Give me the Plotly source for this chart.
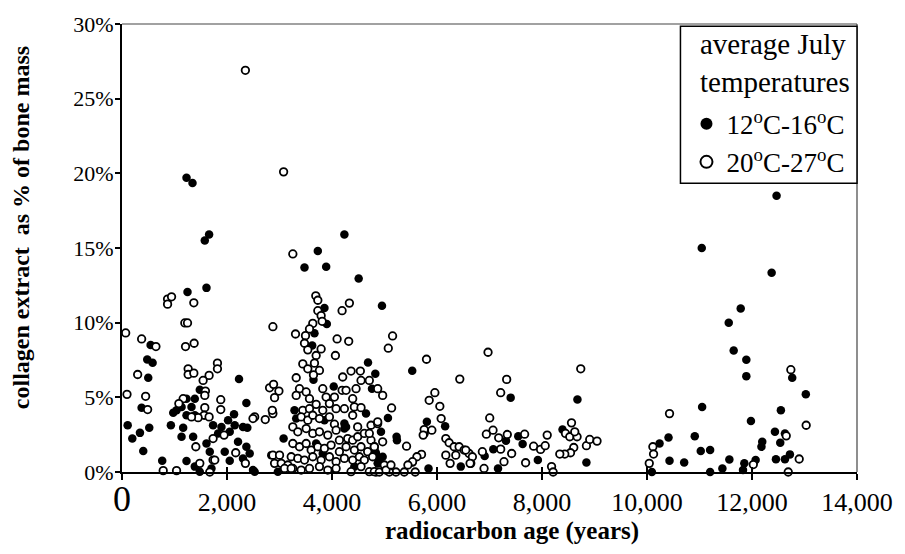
import plotly.graph_objects as go

# Bone collagen yield vs radiocarbon age, split by average July temperature
age_cool = [1229, 1343, 1577, 1659, 3476, 3730, 3889, 4236, 4508, 4952, 1248, 1609, 3856, 3901,
            3666, 3622, 4686, 4825, 5528, 3647, 4033, 4762, 4648, 5066, 4933, 5230, 5237, 5534,
            5838, 5807, 6155, 5763, 6453, 3286, 3318, 3856, 4236, 4236, 4838, 4901, 3698, 3824,
            4426, 4870, 4268, 4825, 4965,
            545, 481, 583, 500, 2229, 1482, 374, 108, 196, 342, 519, 405, 1229, 1387, 1324, 1134,
            1229, 1387, 1039, 976, 1165, 1355, 1134, 931, 2369, 2134, 1735, 1894, 2020, 2147, 2305,
            2387, 1830, 2052, 1609, 1672, 1957, 2210, 2369, 2432, 2052, 2305, 2495, 2527, 1387,
            1482, 1704, 1229, 766, 3078, 2843, 2969,
            7403, 8675, 7314, 7073, 7548, 7631, 7921, 7162, 6908, 8391, 8846,
            12468, 11043, 12374, 11785, 11557, 11651, 11892, 11892, 12766, 13025, 11050, 11980,
            12550, 10410, 10239, 10093, 10429, 10708, 10910, 11024, 11202, 11202, 11436, 11569,
            11854, 11829, 12069, 12180, 12195, 12437, 12538, 12627, 12456, 12627, 12722]
coll_cool = [19.7, 19.35, 15.5, 15.9, 13.7, 14.8, 13.75, 15.9, 12.95, 11.13, 12.05, 12.33, 10.98, 9.91,
             9.29, 8.47, 7.33, 6.58, 6.78, 6.18, 5.73, 5.58, 3.91, 3.62, 2.69, 2.36, 2.13, 0.64,
             0.24, 3.36, 3.07, 2.58, 0.36, 4.13, 3.58, 3.47, 3.24, 2.91, 1.24, 0.8, 1.91, 1.24,
             0.36, 0.58, 3.02, 1.36, 1.02,
             8.51, 7.53, 7.31, 6.31, 6.22, 5.51, 4.31, 3.13, 2.24, 2.62, 2.96, 1.4, 4.91, 4.91, 4.36, 4.36,
             3.8, 3.8, 4.13, 3.96, 2.96, 2.36, 2.36, 3.13, 4.62, 3.87, 3.13, 3.02, 3.47, 3.13, 3.02,
             2.96, 2.58, 2.69, 1.91, 1.36, 1.36, 2.02, 1.69, 1.24, 0.76, 0.91, 0.13, 0.02, 0.36,
             0.02, 0.24, 0.73, 0.76, 2.24, 1.13, 0.02,
             4.98, 4.85, 2.09, 1.53, 2.4, 1.87, 0.8, 0.24, 1.07, 2.84, 0.64,
             18.5, 15.0, 13.35, 10.95, 10.0, 8.13, 7.51, 6.42, 6.31, 5.2, 4.36, 3.42,
             4.13, 2.31, 1.91, 0.0, 0.76, 0.64, 2.4, 1.4, 1.47, 0.0, 0.24, 0.84,
             0.58, 0.13, 0.8, 1.69, 2.02, 2.69, 1.96, 2.58, 0.85, 0.85, 1.18]

age_warm = [2350, 3078, 3254, 868, 944, 868, 1368, 3691, 3730, 4331, 4192, 3730, 3793, 3812, 3634,
            3571, 3305, 3495, 3476, 3539, 3793, 3698, 4097, 4318, 5154, 5072, 4065, 5800, 6434,
            3444, 3539, 3666, 3761, 3647, 3318, 4204, 4363, 4540, 4553, 4711, 4870, 4965, 3381,
            3318, 3508, 3571, 3824, 3888, 4046, 4192, 4268, 4394, 4458, 5135, 5851, 5959, 6054,
            6079, 5756, 5737, 5902, 6168, 6231, 6326, 6421, 6516, 6168, 6250, 6358, 6611, 6643,
            5420, 5705, 5617, 5534, 5446, 5218, 5376, 5585,
            3444, 3571, 3698, 3824, 3951, 4078, 4236, 4426, 4553,
            3413, 3539, 3634, 3761, 3951, 4046, 4394, 4489, 4743, 4870,
            3254, 3349, 3508, 3634, 3761, 3920, 4078, 4141, 4299, 4394, 4489, 4616, 4743, 4806, 4965,
            3254, 3381, 3508, 3603, 3730, 3856, 3983, 4141, 4268, 4426, 4553, 4679, 4806,
            3223, 3349, 3476, 3634, 3793, 3951, 4078, 4236, 4394, 4521, 4616, 4774, 4996,
            3254, 3413, 3571, 3761, 3920, 4078, 4363, 4553, 4711, 4838, 5091,
            4806, 4901, 5028, 5123, 4711, 4870,
            1197, 1248, 70, 374, 646, 1210, 1374, 2874, 298, 1260, 1260, 1368, 1818, 1818, 1659,
            1545, 1589, 1577, 95, 450, 488, 1165, 1083, 1577, 1564, 1450, 1324, 1881, 1881, 1659,
            2527, 2495, 2729, 2874, 2862, 2811, 2887, 2989, 2906, 1944, 1735, 1406, 1735, 1767,
            2166, 2350, 785, 1039, 1672, 1482, 2874, 3001, 2906, 3033, 3159, 3096, 3223,
            6972, 8738, 7327, 7213, 7004, 7067, 6940, 7175, 7339, 7213, 7669, 7840, 7973, 8061,
            8099, 7688, 8182, 8212, 7422, 7276, 6896, 6864, 6674, 6630, 6548, 8562, 8448, 8529,
            8668, 8624, 8605, 8543, 8434, 8339, 8846, 8909, 9048,
            12740, 10429, 13032, 10112, 10125, 10043, 12025, 12652, 12899, 12690]
coll_warm = [26.9, 20.1, 14.6, 11.58, 11.73, 11.24, 11.33, 11.8, 11.5, 11.31, 10.8, 10.8, 10.47, 10.09, 9.95,
             9.58, 9.24, 9.13, 8.62, 8.18, 8.24, 7.8, 8.91, 8.75, 9.11, 8.29, 7.8, 7.55, 6.22,
             7.24, 6.91, 7.29, 6.8, 6.5, 6.31, 6.36, 6.76, 6.76, 6.13, 6.13, 5.58, 5.13, 5.58,
             5.13, 5.36, 4.91, 5.58, 5.02, 5.02, 5.47, 5.47, 4.91, 5.58, 4.29, 4.8, 5.31, 4.4,
             3.58, 2.84, 2.47, 2.8, 2.24, 1.96, 1.69, 1.69, 1.47, 1.13, 0.58, 1.13, 1.24, 0.58,
             1.73, 1.18, 1.02, 0.69, 0.47, 0.0, 0.0, 0.0,
             4.13, 4.24, 4.53, 4.13, 4.58, 4.24, 4.24, 4.36, 4.31,
             3.69, 3.47, 3.8, 3.58, 3.69, 3.2, 3.8, 3.02, 3.13, 3.24,
             3.02, 2.69, 2.91, 2.58, 2.69, 2.47, 2.8, 2.13, 2.24, 2.13, 2.36, 2.58, 2.13, 1.69, 2.02,
             1.91, 1.69, 1.91, 1.47, 1.69, 1.58, 1.8, 1.36, 1.69, 1.47, 1.69, 1.36, 1.69,
             1.02, 0.91, 0.8, 1.02, 0.8, 1.02, 0.69, 0.91, 0.8, 1.02, 0.8, 1.02, 0.47,
             0.24, 0.13, 0.24, 0.36, 0.13, 0.24, 0.02, 0.36, 0.02, 0.0, 0.0,
             0.02, 0.0, 0.13, 0.47, 2.58, 3.36,
             9.98, 9.98, 9.31, 8.91, 8.4, 8.4, 8.62, 9.73, 6.53, 6.91, 6.53, 6.62, 7.29, 6.91, 6.47,
             6.13, 5.42, 5.13, 5.2, 5.07, 4.18, 4.91, 4.58, 4.31, 3.8, 3.64, 3.69, 4.84, 4.18, 3.69,
             3.69, 3.58, 3.51, 3.91, 4.13, 5.64, 5.87, 5.42, 4.98, 2.47, 2.24, 1.69, 0.8, 0.8,
             1.29, 0.58, 0.09, 0.09, 0.0, 0.58, 1.13, 1.13, 0.58, 0.58, 0.47, 0.24, 0.24,
             8.02, 6.91, 6.2, 5.31, 3.62, 2.8, 2.53, 2.29, 2.51, 1.53, 2.53, 1.73, 1.51, 1.76,
             2.47, 0.62, 0.36, 0.0, 1.24, 0.69, 0.24, 1.36, 1.02, 0.58, 1.47, 3.29, 2.58, 2.36,
             2.36, 2.69, 1.64, 1.29, 1.2, 1.2, 1.76, 2.18, 2.07,
             6.85, 3.91, 3.13, 1.69, 1.2, 0.58, 0.5, 2.42, 0.87, 0.0]

x_ticks = [0, 2000, 4000, 6000, 8000, 10000, 12000, 14000]
x_labels = ['<span style="font-size:36px">0</span>', "2,000", "4,000", "6,000",
            "8,000", "10,000", "12,000", "14,000"]
y_ticks = [0, 5, 10, 15, 20, 25, 30]
y_labels = ["0%", "5%", "10%", "15%", "20%", "25%", "30%"]

SERIF = "Liberation Serif, Times New Roman, serif"

fig = go.Figure()
fig.add_trace(go.Scatter(
    x=age_cool, y=coll_cool, mode="markers", name="12<sup>o</sup>C-16<sup>o</sup>C",
    marker=dict(symbol="circle", size=8.5, color="black", line=dict(width=0)),
    cliponaxis=False,
))
fig.add_trace(go.Scatter(
    x=age_warm, y=coll_warm, mode="markers", name="20<sup>o</sup>C-27<sup>o</sup>C",
    marker=dict(symbol="circle", size=7.5, color="white", line=dict(width=1.8, color="black")),
    cliponaxis=False,
))

# legend frame (paper coordinates), title written inside it
LEG_X0, LEG_Y0 = 0.7598, 0.6444

fig.update_layout(
    width=905, height=554,
    margin=dict(l=122, r=46, t=22, b=82),
    paper_bgcolor="white", plot_bgcolor="white",
    font=dict(family=SERIF, color="black"),
    showlegend=True,
    legend=dict(
        x=0.768, y=0.831, xanchor="left", yanchor="top",
        bgcolor="rgba(0,0,0,0)", borderwidth=0,
        font=dict(family=SERIF, size=27, color="black"),
        itemsizing="constant", itemwidth=30, tracegroupgap=0,
    ),
    xaxis=dict(
        range=[0, 14000], tickmode="array", tickvals=x_ticks, ticktext=x_labels,
        ticks="outside", ticklen=6, tickwidth=1.5, tickcolor="black",
        showline=True, linecolor="black", linewidth=2, showgrid=False, zeroline=False,
        tickfont=dict(family=SERIF, size=26, color="black"),
    ),
    xaxis2=dict(
        range=[0, 14000], overlaying="x", side="bottom", anchor="y",
        tickmode="array", tickvals=x_ticks, showticklabels=False,
        ticks="inside", ticklen=5, tickwidth=1.5, tickcolor="black",
        showline=False, showgrid=False, zeroline=False,
    ),
    yaxis=dict(
        range=[0, 30], tickmode="array", tickvals=y_ticks, ticktext=y_labels,
        ticks="outside", ticklen=5, tickwidth=1.5, tickcolor="black",
        showline=True, linecolor="black", linewidth=2, showgrid=False, zeroline=False,
        tickfont=dict(family=SERIF, size=22, color="black"), ticklabelstandoff=-3,
    ),
    shapes=[
        dict(type="line", xref="paper", yref="paper", x0=0, x1=1, y0=1, y1=1,
             line=dict(color="#444", width=1.2)),
        dict(type="line", xref="paper", yref="paper", x0=1, x1=1, y0=0, y1=1,
             line=dict(color="#444", width=1.2)),
        dict(type="rect", xref="paper", yref="paper", x0=LEG_X0, x1=1, y0=LEG_Y0, y1=0.995,
             line=dict(color="black", width=1.5), fillcolor="white", layer="above"),
    ],
    annotations=[
        dict(text="average July<br>temperatures", xref="paper", yref="paper",
             x=0.7835, y=0.912, xanchor="left", yanchor="middle", align="left",
             showarrow=False, font=dict(family=SERIF, size=29, color="black")),
        dict(text="<b>radiocarbon age (years)</b>", xref="paper", yref="paper",
             x=0.53, y=-0.131, xanchor="center", yanchor="middle", showarrow=False,
             font=dict(family=SERIF, size=25, color="black")),
        dict(text="<b>collagen extract  as % of bone mass</b>", xref="paper", yref="paper",
             x=-0.137, y=0.545, xanchor="center", yanchor="middle", textangle=-90,
             showarrow=False, font=dict(family=SERIF, size=24, color="black")),
    ],
)
# dummy trace on the overlay axis so its inward tick marks are drawn
fig.add_trace(go.Scatter(x=[None], y=[None], xaxis="x2", showlegend=False, hoverinfo="skip"))

fig.write_html("out.html")
